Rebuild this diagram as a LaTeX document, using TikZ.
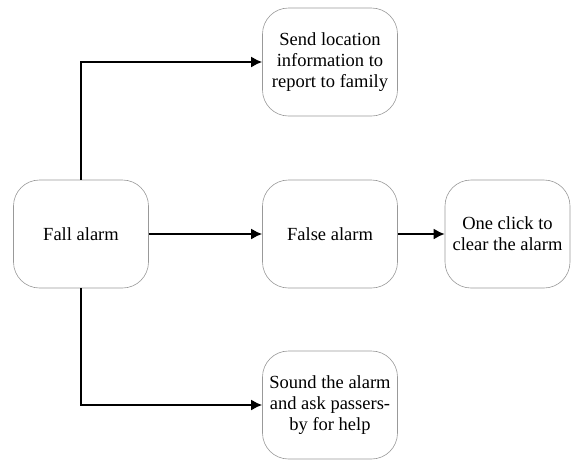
\documentclass[tikz,border=0pt]{standalone}
\usepackage{fontspec}
\setmainfont{Liberation Serif}
\usetikzlibrary{arrows.meta}
\begin{document}
\begin{tikzpicture}[x=1pt,y=-1pt,
  box/.style={draw=black!40,line width=0.6pt,rounded corners=26pt,minimum width=135pt,minimum height=108pt,align=center,font=\fontsize{18.5}{21}\selectfont,inner sep=2pt,fill=white},
  arr/.style={line width=1.8pt,-{Latex[length=11pt,width=11pt]}}]
\useasboundingbox (0,0) rectangle (571,459);
\node[box] (fall) at (81,234) {Fall alarm};
\node[box] (send) at (330,62) {Send location\\information to\\report to family};
\node[box] (false) at (330,234) {False alarm};
\node[box,minimum width=125pt] (clear) at (507.5,234) {One click to\\clear the alarm};
\node[box] (sound) at (330,405) {Sound the alarm\\and ask passers-\\by for help};
\draw[arr] (fall.north) |- (send.west);
\draw[arr] (fall.east) -- (false.west);
\draw[arr] (fall.south) |- (sound.west);
\draw[arr] (false.east) -- (clear.west);
\end{tikzpicture}
\end{document}
